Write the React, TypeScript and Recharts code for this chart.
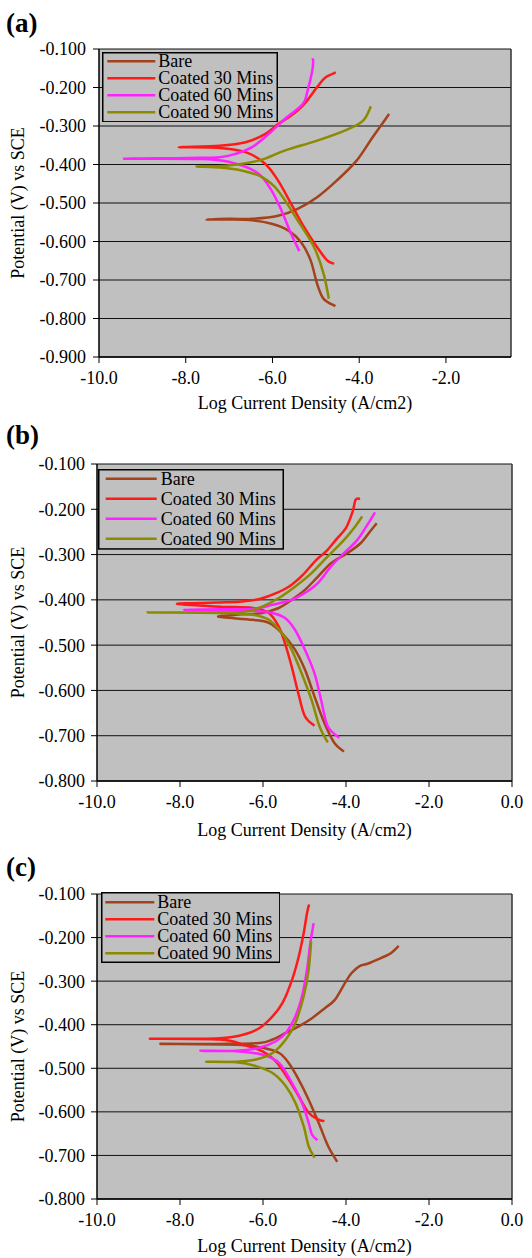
import React from 'react';
import { LineChart, Line, XAxis, YAxis, CartesianGrid, Legend, ReferenceLine } from 'recharts';

type Pt = [number, number];

const SERIES_NAMES = ['Bare', 'Coated 30 Mins', 'Coated 60 Mins', 'Coated 90 Mins'];
const SERIES_COLORS = ['#A3421C', '#FF1A1A', '#FF22FF', '#8C8A00'];

const X_TICKS_A = [-10, -8, -6, -4, -2];
const X_TICKS_BC = [-10, -8, -6, -4, -2, 0];
const Y_TICKS_A = [-0.9, -0.8, -0.7, -0.6, -0.5, -0.4, -0.3, -0.2, -0.1];
const Y_TICKS_BC = [-0.8, -0.7, -0.6, -0.5, -0.4, -0.3, -0.2, -0.1];

const X_TITLE = 'Log Current Density (A/cm2)';
const Y_TITLE = 'Potential (V) vs SCE';

// Panel (a)
const A_BARE: Pt[] = [
  [-4.55, -0.768], [-4.82, -0.749], [-4.97, -0.71], [-5.12, -0.649], [-5.34, -0.602], [-5.64, -0.571],
  [-6.02, -0.554], [-6.47, -0.545], [-7.0, -0.543], [-7.52, -0.543],
  [-7.0, -0.541], [-6.47, -0.541], [-5.87, -0.533], [-5.42, -0.515], [-4.97, -0.485], [-4.52, -0.442],
  [-4.06, -0.39], [-3.69, -0.329], [-3.31, -0.269],
];
const A_C30: Pt[] = [
  [-4.58, -0.658], [-4.74, -0.649], [-4.97, -0.615], [-5.27, -0.563], [-5.57, -0.502], [-5.87, -0.442],
  [-6.17, -0.398], [-6.62, -0.368], [-7.22, -0.357], [-8.16, -0.355],
  [-7.22, -0.351], [-6.62, -0.342], [-6.17, -0.321], [-5.87, -0.295], [-5.57, -0.273], [-5.27, -0.243],
  [-4.97, -0.199], [-4.78, -0.174], [-4.54, -0.161],
];
const A_C60: Pt[] = [
  [-5.38, -0.625], [-5.57, -0.58], [-5.79, -0.52], [-6.02, -0.468], [-6.32, -0.424], [-6.84, -0.398],
  [-7.6, -0.386], [-9.42, -0.385],
  [-7.97, -0.383], [-7.22, -0.381], [-6.84, -0.372], [-6.47, -0.355], [-6.09, -0.321], [-5.72, -0.282],
  [-5.3, -0.243], [-5.19, -0.208], [-5.09, -0.161], [-5.06, -0.132], [-5.08, -0.124],
];
const A_C90: Pt[] = [
  [-4.7, -0.749], [-4.82, -0.684], [-5.04, -0.615], [-5.42, -0.545], [-5.87, -0.468], [-6.24, -0.433],
  [-6.69, -0.416], [-7.2, -0.408], [-7.75, -0.405],
  [-7.07, -0.403], [-6.32, -0.39], [-5.72, -0.364], [-4.97, -0.338], [-4.29, -0.31], [-3.91, -0.286],
  [-3.73, -0.249],
];

// Panel (b)
const B_BARE: Pt[] = [
  [-4.05, -0.735], [-4.28, -0.716], [-4.52, -0.672], [-4.76, -0.613], [-4.99, -0.554], [-5.23, -0.51],
  [-5.54, -0.474], [-5.86, -0.451], [-6.25, -0.444], [-7.08, -0.437],
  [-6.5, -0.432], [-6.02, -0.429], [-5.62, -0.418], [-5.31, -0.4], [-4.99, -0.378], [-4.68, -0.349],
  [-4.36, -0.319], [-3.97, -0.297], [-3.65, -0.275], [-3.42, -0.249], [-3.26, -0.231],
];
const B_C30: Pt[] = [
  [-4.76, -0.678], [-4.99, -0.657], [-5.15, -0.606], [-5.31, -0.547], [-5.47, -0.496], [-5.62, -0.459],
  [-5.86, -0.429], [-6.25, -0.418], [-7.04, -0.415], [-8.07, -0.409],
  [-7.13, -0.406], [-6.57, -0.404], [-6.08, -0.398], [-5.68, -0.385], [-5.36, -0.37], [-5.04, -0.345],
  [-4.72, -0.312], [-4.48, -0.293], [-4.24, -0.267], [-4.0, -0.241], [-3.84, -0.205], [-3.77, -0.179],
  [-3.66, -0.177],
];
const B_C60: Pt[] = [
  [-4.16, -0.705], [-4.44, -0.679], [-4.6, -0.621], [-4.76, -0.562], [-4.99, -0.51], [-5.23, -0.466],
  [-5.47, -0.44], [-5.78, -0.429], [-6.25, -0.424], [-7.04, -0.423], [-7.91, -0.422],
  [-7.04, -0.421], [-6.25, -0.42], [-5.78, -0.411], [-5.31, -0.4], [-4.99, -0.385], [-4.68, -0.363],
  [-4.36, -0.326], [-4.05, -0.297], [-3.73, -0.268], [-3.49, -0.235], [-3.3, -0.207],
];
const B_C90: Pt[] = [
  [-4.44, -0.715], [-4.64, -0.679], [-4.83, -0.621], [-5.07, -0.562], [-5.31, -0.51], [-5.54, -0.474],
  [-5.86, -0.444], [-6.25, -0.433], [-7.04, -0.429], [-8.78, -0.428],
  [-7.04, -0.428], [-6.41, -0.426], [-6.02, -0.415], [-5.62, -0.396], [-5.23, -0.371], [-4.83, -0.341],
  [-4.44, -0.304], [-4.05, -0.268], [-3.81, -0.242], [-3.61, -0.216],
];

// Panel (c)
const C_BARE: Pt[] = [
  [-4.21, -0.715], [-4.43, -0.679], [-4.66, -0.625], [-4.9, -0.572], [-5.14, -0.526], [-5.38, -0.488],
  [-5.61, -0.465], [-6.01, -0.453], [-6.64, -0.446], [-8.47, -0.444],
  [-7.04, -0.444], [-6.09, -0.442], [-5.77, -0.434], [-5.45, -0.419], [-5.14, -0.404], [-4.82, -0.385],
  [-4.51, -0.362], [-4.27, -0.343], [-4.03, -0.305], [-3.87, -0.282], [-3.68, -0.266], [-3.48, -0.26],
  [-3.16, -0.247], [-2.92, -0.236], [-2.73, -0.219],
];
const C_C30: Pt[] = [
  [-4.52, -0.621], [-4.66, -0.618], [-4.9, -0.602], [-5.14, -0.564], [-5.38, -0.526], [-5.69, -0.484],
  [-6.01, -0.461], [-6.48, -0.446], [-7.04, -0.434], [-8.71, -0.432],
  [-7.83, -0.432], [-7.04, -0.431], [-6.48, -0.423], [-6.09, -0.408], [-5.77, -0.381], [-5.53, -0.35],
  [-5.3, -0.297], [-5.14, -0.244], [-5.02, -0.19], [-4.94, -0.144], [-4.89, -0.124],
];
const C_C60: Pt[] = [
  [-4.69, -0.665], [-4.82, -0.652], [-4.9, -0.625], [-5.06, -0.579], [-5.3, -0.534], [-5.61, -0.488],
  [-6.01, -0.469], [-6.64, -0.461], [-7.51, -0.46],
  [-6.64, -0.46], [-6.09, -0.453], [-5.69, -0.438], [-5.45, -0.419], [-5.22, -0.381], [-5.06, -0.335],
  [-4.94, -0.274], [-4.86, -0.213], [-4.78, -0.167],
];
const C_C90: Pt[] = [
  [-4.76, -0.705], [-4.9, -0.679], [-5.02, -0.633], [-5.22, -0.579], [-5.45, -0.541], [-5.77, -0.511],
  [-6.17, -0.495], [-6.64, -0.486], [-7.37, -0.485],
  [-6.64, -0.485], [-6.17, -0.48], [-5.77, -0.465], [-5.45, -0.434], [-5.22, -0.396], [-5.02, -0.335],
  [-4.9, -0.274], [-4.84, -0.209],
];

const FONT = "'Liberation Serif', 'Times New Roman', Times, serif";

// Smooth curve (Catmull-Rom through the points) in d3's curve-factory shape,
// so the library's Line draws it through its own scales.
function smoothCurve(context: any) {
  let pts: number[][] = [];
  return {
    areaStart() {},
    areaEnd() {},
    lineStart() { pts = []; },
    point(x: number, y: number) { pts.push([+x, +y]); },
    lineEnd() {
      const n = pts.length;
      if (!n) return;
      context.moveTo(pts[0][0], pts[0][1]);
      for (let i = 0; i < n - 1; i++) {
        const p0 = pts[i - 1] || pts[i];
        const p1 = pts[i];
        const p2 = pts[i + 1];
        const p3 = pts[i + 2] || p2;
        const c1x = p1[0] + (p2[0] - p0[0]) / 6;
        const c1y = p1[1] + (p2[1] - p0[1]) / 6;
        const c2x = p2[0] - (p3[0] - p1[0]) / 6;
        const c2y = p2[1] - (p3[1] - p1[1]) / 6;
        context.bezierCurveTo(c1x, c1y, c2x, c2y, p2[0], p2[1]);
      }
    },
  };
}

type LegendSpec = {
  left: number; top: number; width: number; height: number;
  rows: number[]; lx1: number; lx2: number; tx: number;
};

type PanelProps = {
  tag: string;
  tagY: number;
  top: number;
  height: number;
  margin: { top: number; right: number; bottom: number; left: number };
  xDomain: [number, number];
  xTicks: number[];
  yDomain: [number, number];
  yTicks: number[];
  series: Pt[][];
  legend: LegendSpec;
  xLabelOffset: number;
  yLabelOffset: number;
  yTickMargin: number;
};

const makeLegend = (spec: LegendSpec) => (props: any) => {
  const payload: any[] = (props && props.payload) || [];
  const items = payload.length
    ? payload.map((p: any) => ({ name: String(p.value), color: p.color }))
    : SERIES_NAMES.map((n, i) => ({ name: n, color: SERIES_COLORS[i] }));
  return (
    <svg width={spec.width} height={spec.height} style={{ display: 'block' }}>
      <rect x={0.75} y={0.75} width={spec.width - 1.5} height={spec.height - 1.5} fill="#C0C0C0" stroke="#000" strokeWidth={1.5} />
      {items.map((it, i) => (
        <g key={it.name}>
          <line x1={spec.lx1} x2={spec.lx2} y1={spec.rows[i]} y2={spec.rows[i]} stroke={it.color} strokeWidth={2.5} />
          <text x={spec.tx} y={spec.rows[i] + 6} fontFamily={FONT} fontSize={18} fill="#000">{it.name}</text>
        </g>
      ))}
    </svg>
  );
};

function Panel(p: PanelProps) {
  const tickStyle = { fill: '#000', fontSize: 18, fontFamily: FONT };
  return (
    <div style={{ position: 'absolute', left: 0, top: p.top, width: 532, height: p.height }}>
      <svg width={60} height={40} style={{ position: 'absolute', left: 0, top: p.tagY - 20 }}>
        <text x={6} y={26.5} fontFamily={FONT} fontWeight="bold" fontSize={27} fill="#000">{p.tag}</text>
      </svg>
      <LineChart width={532} height={p.height} margin={p.margin}>
        <CartesianGrid vertical={false} horizontal stroke="#111" strokeWidth={1} fill="#C0C0C0" fillOpacity={1} />
        <XAxis
          type="number"
          dataKey="x"
          domain={p.xDomain}
          ticks={p.xTicks}
          allowDataOverflow
          interval={0}
          tickFormatter={(v: number) => v.toFixed(1)}
          tick={tickStyle}
          tickLine={{ stroke: '#000' }}
          axisLine={{ stroke: '#000', strokeWidth: 1.5 }}
          tickSize={6}
          tickMargin={8}
          height={56}
          label={{ value: X_TITLE, position: 'insideBottom', offset: p.xLabelOffset, fill: '#000', fontSize: 18, fontFamily: FONT }}
        />
        <YAxis
          type="number"
          dataKey="y"
          domain={p.yDomain}
          ticks={p.yTicks}
          allowDataOverflow
          interval={0}
          tickFormatter={(v: number) => v.toFixed(3)}
          tick={tickStyle}
          tickLine={{ stroke: '#000' }}
          axisLine={{ stroke: '#000', strokeWidth: 1.5 }}
          tickSize={6}
          tickMargin={p.yTickMargin}
          width={84}
          label={{ value: Y_TITLE, angle: -90, position: 'insideLeft', offset: p.yLabelOffset, style: { textAnchor: 'middle' }, fill: '#000', fontSize: 18, fontFamily: FONT }}
        />
        <ReferenceLine x={p.xDomain[1]} stroke="#333" strokeWidth={1.5} />
        {p.series.map((pts, i) => (
          <Line
            key={SERIES_NAMES[i]}
            data={pts.map(([x, y]) => ({ x, y }))}
            dataKey="y"
            name={SERIES_NAMES[i]}
            stroke={SERIES_COLORS[i]}
            strokeWidth={2.5}
            dot={false}
            activeDot={false}
            type={smoothCurve as any}
            isAnimationActive={false}
          />
        ))}
        <Legend
          layout="vertical"
          verticalAlign="middle"
          align="center"
          wrapperStyle={{ left: p.legend.left, top: p.legend.top, width: p.legend.width, height: p.legend.height }}
          content={makeLegend(p.legend)}
        />
      </LineChart>
    </div>
  );
}

export default function App() {
  return (
    <div style={{ position: 'absolute', left: 0, top: 0, width: 532, height: 1258, background: '#fff' }}>
      <Panel
        tag="(a)"
        tagY={25}
        top={0}
        height={415}
        margin={{ top: 49, right: 21, bottom: 2, left: 15 }}
        xDomain={[-10, -0.5]}
        xTicks={X_TICKS_A}
        yDomain={[-0.9, -0.1]}
        yTicks={Y_TICKS_A}
        series={[A_BARE, A_C30, A_C60, A_C90]}
        legend={{ left: 101.7, top: 51.7, width: 176, height: 70.6, rows: [9.3, 26.3, 43.3, 60.3], lx1: 5.3, lx2: 53.3, tx: 56.3 }}
        xLabelOffset={4}
        yLabelOffset={3}
        yTickMargin={7}
      />
      <Panel
        tag="(b)"
        tagY={21.5}
        top={415}
        height={425}
        margin={{ top: 49, right: 20, bottom: 3, left: 13 }}
        xDomain={[-10, 0]}
        xTicks={X_TICKS_BC}
        yDomain={[-0.8, -0.1]}
        yTicks={Y_TICKS_BC}
        series={[B_BARE, B_C30, B_C60, B_C90]}
        legend={{ left: 98.3, top: 54.3, width: 186, height: 80.7, rows: [9.7, 29.7, 49.7, 69.7], lx1: 7.7, lx2: 58.7, tx: 62.7 }}
        xLabelOffset={1}
        yLabelOffset={5}
        yTickMargin={6}
      />
      <Panel
        tag="(c)"
        tagY={28.5}
        top={840}
        height={418}
        margin={{ top: 54, right: 20, bottom: 3, left: 13 }}
        xDomain={[-10, 0]}
        xTicks={X_TICKS_BC}
        yDomain={[-0.8, -0.1]}
        yTicks={Y_TICKS_BC}
        series={[C_BARE, C_C30, C_C60, C_C90]}
        legend={{ left: 100.7, top: 51.7, width: 179.6, height: 71, rows: [10.3, 27.3, 44.3, 61.3], lx1: 4.3, lx2: 53.3, tx: 56.3 }}
        xLabelOffset={3}
        yLabelOffset={5}
        yTickMargin={6}
      />
    </div>
  );
}
